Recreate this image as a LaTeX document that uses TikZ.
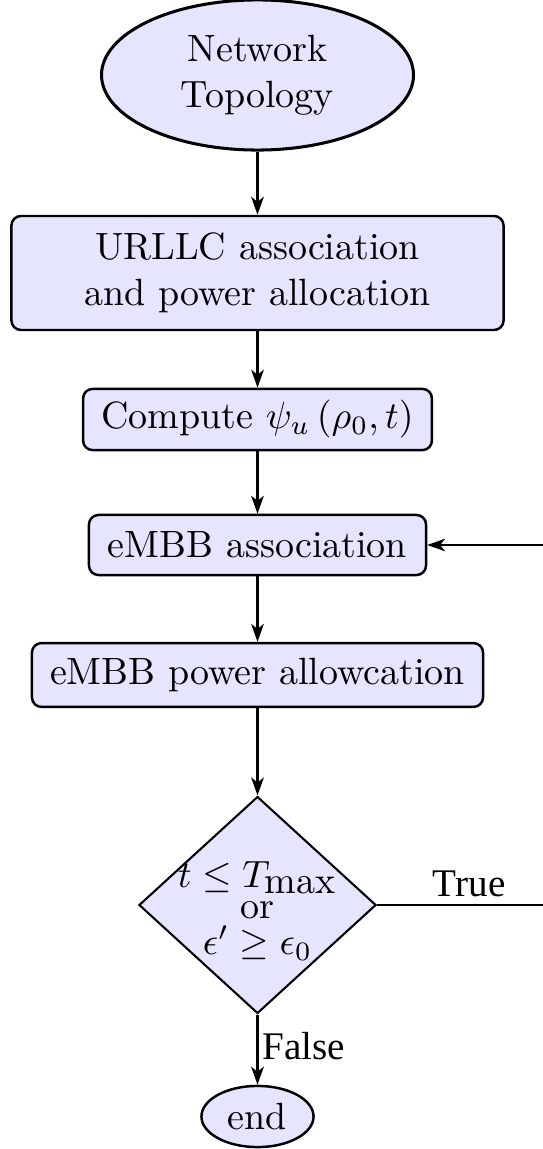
\documentclass[tikz,border=0pt]{standalone}
\usepackage{fontspec}
\newfontfamily\labelfont{Liberation Serif}
\usetikzlibrary{shapes.geometric,arrows.meta}

\begin{document}
\begin{tikzpicture}[x=0.26316pt,y=-0.26316pt,
  every node/.style={font=\fontsize{10}{12}\selectfont},
  block/.style={draw, line width=0.65pt, fill=blue!10, rounded corners=2.5pt,
    inner sep=0pt, align=center},
  term/.style={draw, ellipse, line width=0.8pt, fill=blue!10, inner sep=0pt,
    align=center},
  decision/.style={draw, diamond, line width=0.55pt, fill=blue!10, inner sep=0pt},
  tip/.style={-{Stealth[length=4.7pt,width=3.3pt,inset=1.3pt]}},
  flow/.style={line width=0.7pt, tip},
  flowthin/.style={line width=0.45pt, tip},
  branch/.style={font=\labelfont\fontsize{10.3}{12}\selectfont, inner sep=1pt}
]
\useasboundingbox (0,0) rectangle (542,1149);

% process chain
\node[term, minimum width=82.1pt, minimum height=39.5pt] (topo) at (257.5,75)
  {Network\\Topology};
\node[block, minimum width=129.5pt, minimum height=30pt] (urllc) at (257.5,273)
  {URLLC association\\and power allocation};
\node[block, minimum width=91.8pt, minimum height=16.1pt] (comp) at (257.5,419.5)
  {Compute $\psi_u\left(\rho_0,t\right)$};
\node[block, minimum width=88.7pt, minimum height=15.8pt] (assoc) at (257.5,545)
  {eMBB association};
\node[block, minimum width=118.7pt, minimum height=16.8pt] (power) at (257.5,675)
  {eMBB power allowcation};
\node[decision, minimum width=62.4pt, minimum height=57.1pt] (dec) at (257.5,905) {};
\node[align=center, inner sep=0pt] (dectxt) at (257.5,911)
  {$t\leq T_{\mbox{max}}$\\[-3.9pt]or\\[-2.6pt]$\epsilon'\geq\epsilon_0$};
\node[term, line width=0.65pt, minimum width=29.5pt, minimum height=16.1pt] (stop)
  at (257.5,1116.5) {end};

% return point of the loop, just past the right edge
\coordinate (loopx) at (546,905);

% connectors
\draw[flow] (topo) -- (urllc);
\draw[flow] (urllc) -- (comp);
\draw[flow] (comp) -- (assoc);
\draw[flow] (assoc) -- (power);
\draw[flow] (power) -- (dec);
\draw[flow] (dec) -- node[branch, right, pos=0.45] {False} (stop);
\draw[flowthin] (dec.east) -- node[branch, above, inner sep=1.8pt, xshift=2pt] {True}
  (loopx) |- (assoc.east);
\end{tikzpicture}
\end{document}
